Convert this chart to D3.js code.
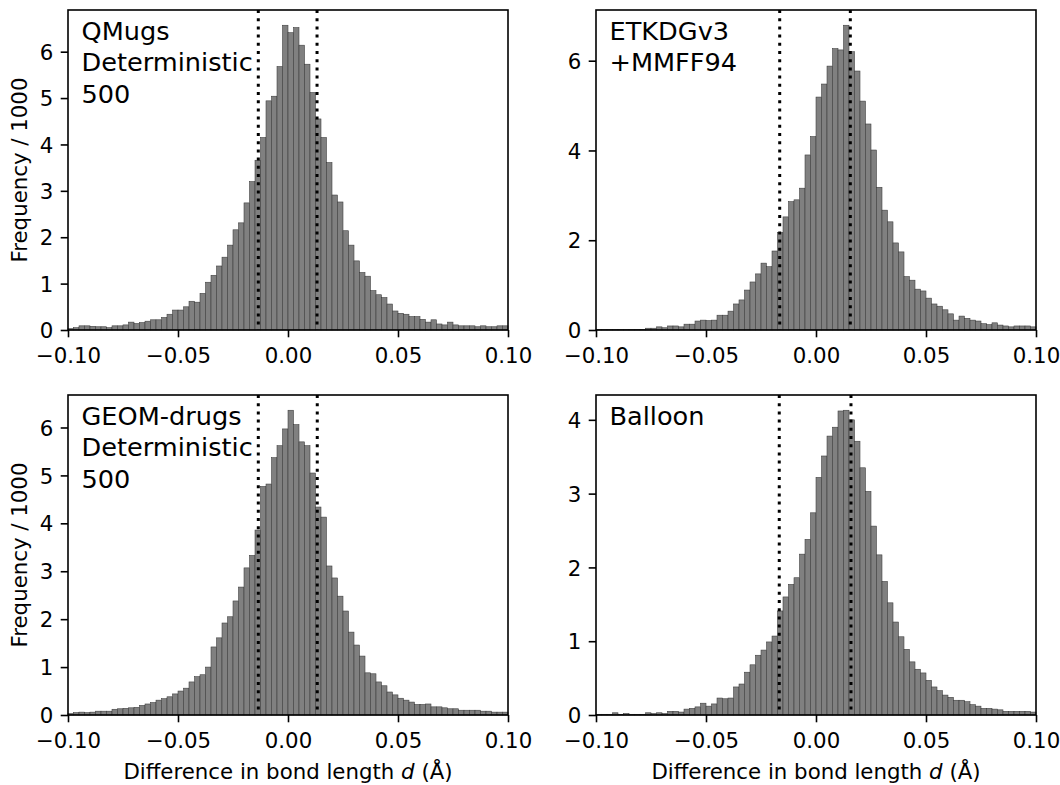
<!DOCTYPE html>
<html>
<head>
<meta charset="utf-8">
<script src="https://cdn.jsdelivr.net/npm/d3@7"></script>
<style>
  html, body { margin: 0; padding: 0; background: #fff; }
  svg { display: block; font-family: "DejaVu Sans", sans-serif; }
</style>
</head>
<body>
<svg id="chart" width="1060" height="785"></svg>
<script>
// ---------------- DATA ----------------
const binStart = -0.1;
const binWidth = 0.0025;
const xTicks = [-0.10, -0.05, 0.00, 0.05, 0.10];

const titleQMugs = ["QMugs", "Deterministic", "500"];
const titleETKDG = ["ETKDGv3", "+MMFF94"];
const titleGEOM = ["GEOM-drugs", "Deterministic", "500"];
const titleBalloon = ["Balloon"];

const yTicksQMugs = [0, 1, 2, 3, 4, 5, 6];
const yTicksETKDG = [0, 2, 4, 6];
const yTicksGEOM = [0, 1, 2, 3, 4, 5, 6];
const yTicksBalloon = [0, 1, 2, 3, 4];

const linesQMugs = [-0.0135, 0.0132];
const linesETKDG = [-0.0165, 0.0156];
const linesGEOM = [-0.0135, 0.0133];
const linesBalloon = [-0.0167, 0.0159];

// Frequency / 1000 per bin (80 bins from -0.1 to 0.1)
const freqQMugs = [
  0.03, 0.05, 0.09, 0.09, 0.08, 0.07, 0.07, 0.05, 0.09, 0.09,
  0.11, 0.17, 0.14, 0.16, 0.19, 0.22, 0.22, 0.27, 0.34, 0.43,
  0.43, 0.50, 0.62, 0.60, 0.79, 1.03, 1.18, 1.38, 1.57, 1.83,
  2.16, 2.31, 2.74, 3.20, 3.66, 4.15, 4.94, 5.04, 5.68, 6.57,
  6.41, 6.52, 6.14, 5.73, 5.12, 4.55, 4.15, 3.61, 2.91, 2.76,
  2.14, 1.83, 1.49, 1.24, 1.16, 0.85, 0.76, 0.70, 0.56, 0.41,
  0.36, 0.34, 0.29, 0.29, 0.23, 0.17, 0.22, 0.13, 0.11, 0.17,
  0.11, 0.09, 0.09, 0.09, 0.07, 0.09, 0.07, 0.07, 0.09, 0.09
];
const freqETKDG = [
  0.01, 0.01, 0.01, 0.01, 0.01, 0.01, 0.01, 0.015, 0.015, 0.04,
  0.04, 0.07, 0.05, 0.09, 0.09, 0.07, 0.13, 0.13, 0.20, 0.22,
  0.21, 0.22, 0.33, 0.33, 0.42, 0.58, 0.67, 0.89, 1.07, 1.25,
  1.49, 1.41, 1.76, 2.17, 2.52, 2.86, 2.90, 3.16, 3.90, 4.31,
  5.19, 5.48, 5.88, 6.27, 6.24, 6.79, 6.20, 5.77, 5.10, 4.59,
  4.01, 3.18, 2.67, 2.41, 1.94, 1.74, 1.19, 1.11, 0.91, 0.87,
  0.71, 0.58, 0.53, 0.45, 0.36, 0.22, 0.31, 0.26, 0.22, 0.20,
  0.14, 0.12, 0.16, 0.11, 0.09, 0.07, 0.09, 0.09, 0.09, 0.07
];
const freqGEOM = [
  0.03, 0.05, 0.06, 0.05, 0.06, 0.08, 0.08, 0.08, 0.12, 0.13,
  0.14, 0.15, 0.16, 0.20, 0.23, 0.26, 0.31, 0.34, 0.38, 0.44,
  0.50, 0.56, 0.69, 0.80, 0.84, 1.00, 1.42, 1.61, 1.92, 2.05,
  2.38, 2.67, 3.07, 3.33, 3.86, 4.77, 4.82, 5.37, 5.62, 5.97,
  6.36, 6.06, 5.70, 5.62, 5.05, 4.34, 4.13, 3.11, 2.86, 2.48,
  2.17, 1.73, 1.46, 1.23, 0.88, 0.86, 0.69, 0.61, 0.48, 0.42,
  0.35, 0.31, 0.27, 0.22, 0.22, 0.23, 0.17, 0.17, 0.15, 0.13,
  0.13, 0.10, 0.10, 0.10, 0.10, 0.08, 0.08, 0.06, 0.06, 0.06
];
const freqBalloon = [
  0.01, 0.01, 0.01, 0.03, 0.01, 0.02, 0.01, 0.01, 0.01, 0.03,
  0.02, 0.03, 0.02, 0.05, 0.05, 0.04, 0.08, 0.09, 0.11, 0.16,
  0.12, 0.15, 0.23, 0.22, 0.23, 0.38, 0.42, 0.58, 0.68, 0.81,
  0.88, 0.99, 1.07, 1.41, 1.60, 1.77, 1.86, 2.18, 2.38, 2.74,
  3.22, 3.51, 3.78, 3.90, 4.12, 4.13, 4.00, 3.71, 3.35, 3.03,
  2.56, 2.17, 1.81, 1.52, 1.26, 1.06, 0.89, 0.72, 0.62, 0.57,
  0.47, 0.38, 0.33, 0.27, 0.24, 0.20, 0.20, 0.18, 0.14, 0.12,
  0.09, 0.09, 0.08, 0.07, 0.05, 0.05, 0.05, 0.05, 0.05, 0.04
];

const xLabelPre = "Difference in bond length ";
const xLabelVar = "d";
const xLabelPost = " (Å)";
const yLabel = "Frequency / 1000";

// ---------------- LAYOUT ----------------
const panels = [
  { values: freqQMugs, lines: linesQMugs, yTicks: yTicksQMugs, title: titleQMugs, left: 68, top: 10, showY: true, showX: false },
  { values: freqETKDG, lines: linesETKDG, yTicks: yTicksETKDG, title: titleETKDG, left: 596, top: 10, showY: false, showX: false },
  { values: freqGEOM, lines: linesGEOM, yTicks: yTicksGEOM, title: titleGEOM, left: 68, top: 395, showY: true, showX: true },
  { values: freqBalloon, lines: linesBalloon, yTicks: yTicksBalloon, title: titleBalloon, left: 596, top: 395, showY: false, showX: true }
];
const pw = 440, ph = 320;
const tickLen = 7.3, tickW = 1.6, frameW = 1.6;
const tickFont = 21.3, titleFont = 25.6;

const svg = d3.select("#chart");

panels.forEach(p => {
  const g = svg.append("g").attr("transform", `translate(${p.left},${p.top})`);
  const x = d3.scaleLinear().domain([-0.1, 0.1]).range([0, pw]);
  const ymax = d3.max(p.values) * 1.05;
  const y = d3.scaleLinear().domain([0, ymax]).range([ph, 0]);

  const bins = p.values.map((v, i) => ({ x0: binStart + i * binWidth, x1: binStart + (i + 1) * binWidth, v }));

  // bars
  g.append("g").selectAll("rect").data(bins).join("rect")
    .attr("x", d => x(d.x0))
    .attr("y", d => y(d.v))
    .attr("width", d => x(d.x1) - x(d.x0))
    .attr("height", d => y(0) - y(d.v))
    .attr("fill", "#808080")
    .attr("stroke", "#383838")
    .attr("stroke-width", 0.55);

  // dotted lines
  g.append("g").selectAll("line").data(p.lines).join("line")
    .attr("x1", d => x(d)).attr("x2", d => x(d))
    .attr("y1", 0).attr("y2", ph)
    .attr("stroke", "#000")
    .attr("stroke-width", 3)
    .attr("stroke-dasharray", "3 5.2");

  // axes
  const fmt = d3.format(".2f");
  const xa = g.append("g").attr("transform", `translate(0,${ph})`)
    .call(d3.axisBottom(x).tickValues(xTicks).tickFormat(fmt).tickSize(tickLen).tickSizeOuter(0).tickPadding(7.3));
  xa.select(".domain").remove();
  xa.selectAll(".tick line").attr("stroke", "#000").attr("stroke-width", tickW);
  xa.selectAll(".tick text").attr("font-size", tickFont).attr("font-family", "DejaVu Sans").attr("fill", "#000")
    .attr("y", 33).attr("dy", null);

  const ya = g.append("g")
    .call(d3.axisLeft(y).tickValues(p.yTicks).tickFormat(d3.format("d")).tickSize(tickLen).tickSizeOuter(0).tickPadding(7.3));
  ya.select(".domain").remove();
  ya.selectAll(".tick line").attr("stroke", "#000").attr("stroke-width", tickW);
  ya.selectAll(".tick text").attr("font-size", tickFont).attr("font-family", "DejaVu Sans").attr("fill", "#000")
    .attr("dy", "0.36em");

  // frame
  g.append("rect").attr("x", 0).attr("y", 0).attr("width", pw).attr("height", ph)
    .attr("fill", "none").attr("stroke", "#000").attr("stroke-width", frameW);

  // title
  const t = g.append("text").attr("font-size", titleFont).attr("fill", "#000");
  p.title.forEach((line, i) => {
    t.append("tspan").attr("x", 13.5).attr("y", 29.5 + i * 31.5).text(line);
  });

  if (p.showY) {
    svg.append("text")
      .attr("transform", `translate(${p.left - 41.5},${p.top + ph / 2}) rotate(-90)`)
      .attr("text-anchor", "middle")
      .attr("font-size", tickFont)
      .attr("fill", "#000")
      .text(yLabel);
  }
  if (p.showX) {
    const xl = svg.append("text")
      .attr("x", p.left + pw / 2)
      .attr("y", p.top + ph + 64)
      .attr("text-anchor", "middle")
      .attr("font-size", tickFont)
      .attr("fill", "#000");
    xl.append("tspan").text(xLabelPre);
    xl.append("tspan").attr("font-style", "italic").text(xLabelVar);
    xl.append("tspan").text(xLabelPost);
  }
});
</script>
</body>
</html>
